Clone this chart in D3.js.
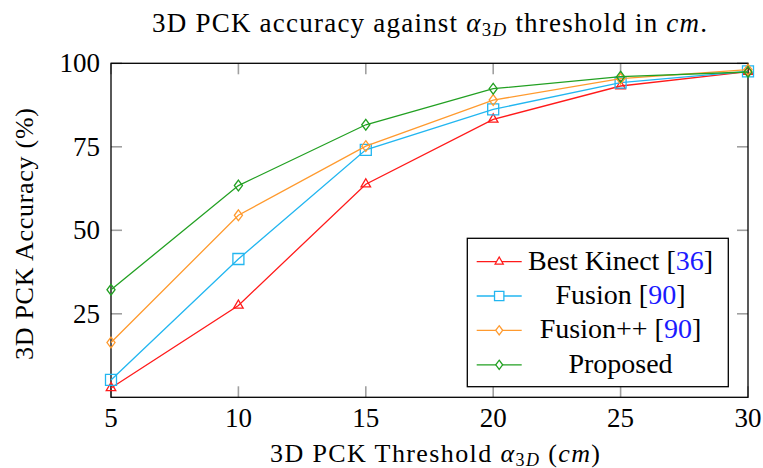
<!DOCTYPE html>
<html><head><meta charset="utf-8">
<script src="https://cdn.jsdelivr.net/npm/d3@7"></script>
</head><body style="margin:0;background:#fff">
<svg id="c" width="763" height="468"></svg>
<script>
const thresholds = [5, 10, 15, 20, 25, 30];
const bestKinect = [2.8, 27.5, 63.8, 83.2, 93.2, 97.5];
const fusion = [5.2, 41.4, 74.1, 86.2, 94.2, 97.6];
const fusionPP = [16.4, 54.5, 75.2, 89.0, 95.4, 98.1];
const proposed = [32.2, 63.4, 81.6, 92.4, 96.0, 97.4];
const xTicks = [5, 10, 15, 20, 25, 30];
const yTicks = [25, 50, 75, 100];
const seriesNames = ["Best Kinect", "Fusion", "Fusion++", "Proposed"];
const seriesRefs = ["36", "90", "90", ""];
const seriesColors = ["#ff1a1a", "#22b6f0", "#ff9a2e", "#22a022"];
const seriesMarkers = ["triangle", "square", "diamond", "diamond"];
const seriesData = [bestKinect, fusion, fusionPP, proposed];
const FONT = "'Liberation Serif', Tinos, FreeSerif";

const svg = d3.select("#c");
const L = 111, R = 748, T = 63.3, B = 397.3;
const x = d3.scaleLinear().domain([5, 30]).range([L, R]);
const y = d3.scaleLinear().domain([0, 100]).range([B, T]);

const tickLen = 11, tickCol = "#a0a0a0";
const g = svg.append("g");
g.selectAll(".xb").data(xTicks).join("line")
  .attr("x1", d => x(d)).attr("x2", d => x(d)).attr("y1", B).attr("y2", B - tickLen)
  .attr("stroke", tickCol).attr("stroke-width", 1.6);
g.selectAll(".xt").data(xTicks).join("line")
  .attr("x1", d => x(d)).attr("x2", d => x(d)).attr("y1", T).attr("y2", T + tickLen)
  .attr("stroke", tickCol).attr("stroke-width", 1.6);
g.selectAll(".yl").data(yTicks).join("line")
  .attr("x1", L).attr("x2", L + tickLen).attr("y1", d => y(d)).attr("y2", d => y(d))
  .attr("stroke", tickCol).attr("stroke-width", 1.6);
g.selectAll(".yr").data(yTicks).join("line")
  .attr("x1", R).attr("x2", R - tickLen).attr("y1", d => y(d)).attr("y2", d => y(d))
  .attr("stroke", tickCol).attr("stroke-width", 1.6);

svg.selectAll(".xl").data(xTicks).join("text")
  .attr("x", d => x(d)).attr("y", 426.5).attr("text-anchor", "middle")
  .attr("font-size", 27).text(d => d);
svg.selectAll(".ylb").data(yTicks).join("text")
  .attr("x", 100).attr("y", d => y(d) + 9).attr("text-anchor", "end")
  .attr("font-size", 27).text(d => d);

svg.append("rect").attr("x", L).attr("y", T).attr("width", R - L).attr("height", B - T)
  .attr("fill", "none").attr("stroke", "#000").attr("stroke-width", 1.3);

function markerPath(type, r) {
  if (type === "triangle") {
    return `M0,${-r} L${0.866*r},${0.5*r} L${-0.866*r},${0.5*r} Z`;
  } else if (type === "square") {
    return `M${-r},${-r} H${r} V${r} H${-r} Z`;
  } else {
    return `M0,${-r*1.0} L${r*0.75},0 L0,${r*1.0} L${-r*0.75},0 Z`;
  }
}
const markerR = {triangle: 5.5, square: 5.5, diamond: 5.4};

const line = d3.line().x((d, i) => x(thresholds[i])).y(d => y(d));
seriesData.forEach((vals, si) => {
  const col = seriesColors[si];
  svg.append("path").datum(vals).attr("d", line)
    .attr("fill", "none").attr("stroke", col).attr("stroke-width", 1.3);
  svg.selectAll(".m" + si).data(vals).join("path")
    .attr("transform", (d, i) => `translate(${x(thresholds[i])},${y(d)})`)
    .attr("d", markerPath(seriesMarkers[si], markerR[seriesMarkers[si]]))
    .attr("fill", "none").attr("stroke", col).attr("stroke-width", 1.3);
});

function addSpan(parent, txt, opts) {
  const s = parent.append("tspan").text(txt);
  if (opts) Object.keys(opts).forEach(k => s.attr(k, opts[k]));
  return s;
}

const title = svg.append("text")
  .attr("x", 429.5).attr("y", 32).attr("text-anchor", "middle")
  .attr("font-size", 27).attr("textLength", 555).attr("lengthAdjust", "spacing");
addSpan(title, "3D PCK accuracy against ");
addSpan(title, "α", {"font-style": "italic"});
addSpan(title, "3", {"font-size": 19, dy: 4});
addSpan(title, "D", {"font-size": 19, "font-style": "italic"});
addSpan(title, " threshold in ", {dy: -4});
addSpan(title, "cm", {"font-style": "italic"});
addSpan(title, ".");

const xl = svg.append("text")
  .attr("x", 435).attr("y", 461.5).attr("text-anchor", "middle")
  .attr("font-size", 26).attr("textLength", 330).attr("lengthAdjust", "spacing");
addSpan(xl, "3D PCK Threshold ");
addSpan(xl, "α", {"font-style": "italic"});
addSpan(xl, "3", {"font-size": 18, dy: 4});
addSpan(xl, "D", {"font-size": 18, "font-style": "italic"});
addSpan(xl, " (", {dy: -4});
addSpan(xl, "cm", {"font-style": "italic"});
addSpan(xl, ")");

svg.append("text")
  .attr("transform", "translate(33,234) rotate(-90)")
  .attr("text-anchor", "middle").attr("font-size", 26)
  .attr("textLength", 252).attr("lengthAdjust", "spacing")
  .text("3D PCK Accuracy (%)");

const lg = svg.append("g");
lg.append("rect").attr("x", 467.3).attr("y", 238.3).attr("width", 261).attr("height", 148.4)
  .attr("fill", "#fff").attr("stroke", "#000").attr("stroke-width", 1.3);
const rowY = [261.7, 296, 330.3, 364.8];
seriesNames.forEach((name, si) => {
  const col = seriesColors[si], yy = rowY[si];
  lg.append("line").attr("x1", 476.7).attr("x2", 521.7).attr("y1", yy).attr("y2", yy)
    .attr("stroke", col).attr("stroke-width", 1.3);
  lg.append("path").attr("transform", `translate(499.2,${yy})`)
    .attr("d", markerPath(seriesMarkers[si], markerR[seriesMarkers[si]] * 0.85))
    .attr("fill", "#fff").attr("stroke", col).attr("stroke-width", 1.3);
  const t = lg.append("text")
    .attr("x", 620.5).attr("y", yy + 8).attr("text-anchor", "middle")
    .attr("font-size", 28);
  addSpan(t, name);
  if (seriesRefs[si]) {
    addSpan(t, " [");
    addSpan(t, seriesRefs[si], {fill: "#1a1aff"});
    addSpan(t, "]");
  }
});

svg.selectAll("text, tspan").each(function () {
  this.style.setProperty("font-family", FONT, "important");
});
</script>
</body></html>
